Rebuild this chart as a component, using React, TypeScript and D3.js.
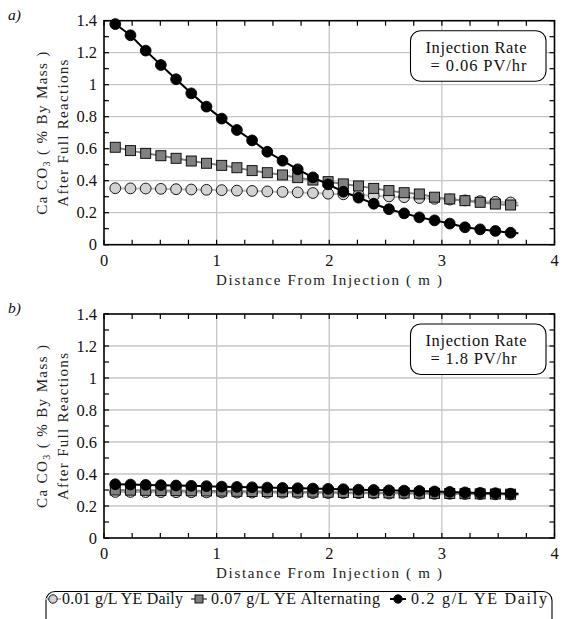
import React from "react";
import * as d3 from "d3";

// ---- data ----
const distances = [0.1, 0.235, 0.37, 0.505, 0.64, 0.775, 0.91, 1.045, 1.18, 1.315, 1.45, 1.585, 1.72, 1.855, 1.99, 2.125, 2.26, 2.395, 2.53, 2.665, 2.8, 2.935, 3.07, 3.205, 3.34, 3.475, 3.61];
const tailDistance = 3.68;

const seriesNames = ["0.01 g/L YE Daily", "0.07 g/L YE Alternating", "0.2 g/L YE Daily"];

// panel a) 0.06 PV/hr
const aDaily001 = [0.353, 0.352, 0.351, 0.349, 0.347, 0.345, 0.343, 0.341, 0.338, 0.336, 0.333, 0.330, 0.327, 0.323, 0.319, 0.315, 0.311, 0.306, 0.302, 0.297, 0.292, 0.287, 0.282, 0.277, 0.272, 0.268, 0.264];
const aAlt007 = [0.609, 0.588, 0.571, 0.556, 0.540, 0.523, 0.509, 0.496, 0.481, 0.463, 0.450, 0.436, 0.419, 0.404, 0.394, 0.380, 0.367, 0.352, 0.338, 0.325, 0.317, 0.297, 0.286, 0.275, 0.265, 0.254, 0.248];
const aDaily02 = [1.379, 1.309, 1.213, 1.123, 1.034, 0.946, 0.863, 0.788, 0.717, 0.652, 0.581, 0.525, 0.471, 0.421, 0.377, 0.331, 0.294, 0.256, 0.222, 0.196, 0.171, 0.152, 0.132, 0.109, 0.096, 0.086, 0.075];
const aTails = [0.262, 0.245, 0.072];

// panel b) 1.8 PV/hr
const bDaily001 = [0.288, 0.288, 0.287, 0.287, 0.286, 0.286, 0.285, 0.285, 0.284, 0.284, 0.283, 0.283, 0.282, 0.281, 0.281, 0.280, 0.280, 0.279, 0.278, 0.278, 0.277, 0.276, 0.276, 0.275, 0.274, 0.273, 0.272];
const bAlt007 = [0.300, 0.299, 0.298, 0.297, 0.296, 0.295, 0.294, 0.293, 0.292, 0.291, 0.290, 0.289, 0.288, 0.287, 0.286, 0.285, 0.284, 0.283, 0.282, 0.281, 0.280, 0.279, 0.278, 0.277, 0.276, 0.275, 0.274];
const bDaily02 = [0.336, 0.334, 0.332, 0.330, 0.328, 0.326, 0.324, 0.321, 0.319, 0.317, 0.315, 0.313, 0.311, 0.309, 0.307, 0.305, 0.302, 0.300, 0.298, 0.296, 0.294, 0.291, 0.288, 0.285, 0.282, 0.280, 0.277];
const bTails = [0.271, 0.273, 0.276];

const xTicks = [0, 1, 2, 3, 4];
const yTicks = [0, 0.2, 0.4, 0.6, 0.8, 1, 1.2, 1.4];
const rateLabels = ["= 0.06 PV/hr", "= 1.8 PV/hr"];
const panelLabels = ["a)", "b)"];

// ---- layout ----
const W = 578;
const H = 619;
const left = 104;
const right = 554.5;
const plotH = 224;
const panelTops = [20.7, 314];
const FONT = '"Liberation Serif", "Times New Roman", Times, "DejaVu Serif", serif';
const font = (size: number, extra: any = {}) => ({ fontFamily: FONT, fontSize: size + "px", ...extra });

const x = d3.scaleLinear().domain([0, 4]).range([left, right]);

const styles = [
  { line: "#bdbdbd", fill: "#d2d2d2", shape: "circle" },
  { line: "#808080", fill: "#808080", shape: "square" },
  { line: "#000000", fill: "#000000", shape: "circle" },
];

function Marker({ cx, cy, s }: { cx: number; cy: number; s: any }) {
  if (s.shape === "square") {
    return <rect x={cx - 5} y={cy - 5} width={10} height={10} fill={s.fill} stroke="#000" strokeWidth={0.9} />;
  }
  return <circle cx={cx} cy={cy} r={5.4} fill={s.fill} stroke="#000" strokeWidth={0.9} />;
}

function Panel({ idx, series, tails }: { idx: number; series: number[][]; tails: number[] }) {
  const top = panelTops[idx];
  const bottom = top + plotH;
  const y = d3.scaleLinear().domain([0, 1.4]).range([bottom, top]);
  const minorX = d3.range(0, 4.001, 0.25);
  const minorY = d3.range(0, 1.401, 0.1);
  const line = d3
    .line<[number, number]>()
    .x((d) => x(d[0]))
    .y((d) => y(d[1]));
  const cy = (top + bottom) / 2;
  return (
    <g>
      {xTicks.slice(1, -1).map((t) => (
        <line key={"gx" + t} x1={x(t)} x2={x(t)} y1={top} y2={bottom} stroke="#c6c6c6" strokeWidth={1.3} />
      ))}
      {yTicks.slice(1, -1).map((t) => (
        <line key={"gy" + t} x1={left} x2={right} y1={y(t)} y2={y(t)} stroke="#c6c6c6" strokeWidth={1.3} />
      ))}
      {minorX.map((t, i) => (
        <g key={"tx" + i}>
          <line x1={x(t)} x2={x(t)} y1={bottom} y2={bottom - 5} stroke="#000" strokeWidth={1.2} />
          <line x1={x(t)} x2={x(t)} y1={top} y2={top + 5} stroke="#000" strokeWidth={1.2} />
        </g>
      ))}
      {minorY.map((t, i) => (
        <g key={"ty" + i}>
          <line x1={left} x2={left + 5} y1={y(t)} y2={y(t)} stroke="#000" strokeWidth={1.2} />
          <line x1={right} x2={right - 5} y1={y(t)} y2={y(t)} stroke="#000" strokeWidth={1.2} />
        </g>
      ))}
      {series.map((vals, si) => {
        const pts: [number, number][] = distances.map((d, i) => [d, vals[i]]);
        const linePts: [number, number][] = [...pts, [tailDistance, tails[si]]];
        const s = styles[si];
        return (
          <g key={"s" + si}>
            <path d={line(linePts) || ""} fill="none" stroke={s.line} strokeWidth={2} />
            {pts.map((p, i) => (
              <Marker key={i} cx={x(p[0])} cy={y(p[1])} s={s} />
            ))}
          </g>
        );
      })}
      <rect x={left} y={top} width={right - left} height={plotH} fill="none" stroke="#000" strokeWidth={1.6} />
      {yTicks.map((t) => (
        <text key={"yl" + t} x={left - 7} y={y(t) + 5.5} textAnchor="end" style={font(16.5)} fill="#111">
          {d3.format("~g")(t)}
        </text>
      ))}
      {xTicks.map((t) => (
        <text key={"xl" + t} x={x(t)} y={bottom + 21} textAnchor="middle" style={font(16.5)} fill="#111">
          {t}
        </text>
      ))}
      <text x={216} y={bottom + 40} textLength={226} lengthAdjust="spacing" style={font(15)} fill="#222">
        Distance From Injection ( m )
      </text>
      <text transform={`translate(47,${cy + 82}) rotate(-90)`} textLength={163} lengthAdjust="spacing" style={font(15)} fill="#222">
        <tspan>Ca CO</tspan>
        <tspan style={{ fontSize: "10px" }} dy={3}>3</tspan>
        <tspan dy={-3}> ( % By Mass )</tspan>
      </text>
      <text transform={`translate(68,${cy + 74}) rotate(-90)`} textLength={147} lengthAdjust="spacing" style={font(15)} fill="#222">
        After Full Reactions
      </text>
      <text x={8} y={top - 1} style={font(15.5, { fontStyle: "italic" })} fill="#111">
        {panelLabels[idx]}
      </text>
      <rect x={410.5} y={top + 10} width={135.5} height={50.5} rx={10} ry={10} fill="#fff" stroke="#000" strokeWidth={1.1} />
      <text x={425.5} y={top + 32} textLength={101} lengthAdjust="spacing" style={font(16.5)} fill="#111">
        Injection Rate
      </text>
      <text x={430.5} y={top + 50} textLength={idx === 0 ? 96 : 86} lengthAdjust="spacing" style={font(16.5)} fill="#111">
        {rateLabels[idx]}
      </text>
    </g>
  );
}

function Legend() {
  const ly = 599;
  const items = [
    { mx: 53, tx: 62, w: 121 },
    { mx: 199, tx: 211, w: 169 },
    { mx: 398, tx: 411, w: 136 },
  ];
  return (
    <g>
      <rect x={46} y={591.5} width={506} height={50} rx={9} ry={9} fill="#fff" stroke="#000" strokeWidth={1.1} />
      {items.map((it, i) => (
        <g key={i}>
          <line x1={it.mx - 8} x2={it.mx + 8} y1={ly} y2={ly} stroke={styles[i].line} strokeWidth={2} />
          {styles[i].shape === "square" ? (
            <rect x={it.mx - 4} y={ly - 4} width={8} height={8} fill={styles[i].fill} stroke="#000" strokeWidth={0.9} />
          ) : (
            <circle cx={it.mx} cy={ly} r={4.2} fill={styles[i].fill} stroke="#000" strokeWidth={0.9} />
          )}
          <text x={it.tx} y={ly + 5} textLength={it.w} lengthAdjust="spacing" style={font(16)} fill="#111">
            {seriesNames[i]}
          </text>
        </g>
      ))}
    </g>
  );
}

export default function App() {
  return (
    <svg width={W} height={H} style={{ position: "absolute", left: 0, top: 0, background: "#fff" }}>
      <rect width={W} height={H} fill="#fff" />
      <Panel idx={0} series={[aDaily001, aAlt007, aDaily02]} tails={aTails} />
      <Panel idx={1} series={[bDaily001, bAlt007, bDaily02]} tails={bTails} />
      <Legend />
    </svg>
  );
}
